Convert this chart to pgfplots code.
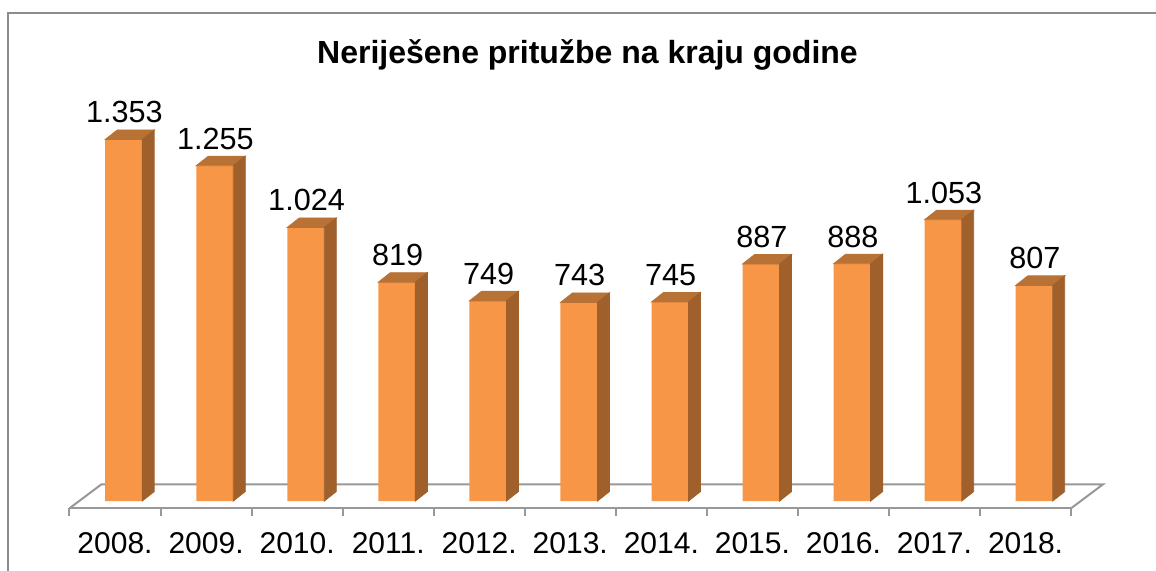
\documentclass[border=0pt]{standalone}
\usepackage{fontspec}
\setmainfont{Liberation Sans}
\usepackage{pgfplots}
\usepackage{pgfplotstable}
\pgfplotsset{compat=1.18}
\definecolor{front}{HTML}{F79646}
\definecolor{sidecol}{HTML}{A0602C}
\definecolor{topcol}{HTML}{B97236}
\definecolor{floorgray}{HTML}{989898}
\definecolor{bordergray}{HTML}{8C8C8C}
\pgfplotstableread{
x v
0 1353
1 1255
2 1024
3 819
4 749
5 743
6 745
7 887
8 888
9 1053
10 807
}\datatable
\begin{document}
\begin{tikzpicture}
\useasboundingbox (-34.75pt,-30.85pt) rectangle (543.25pt,254.15pt);
\clip (-34.75pt,-30.85pt) rectangle (543.25pt,254.15pt);
\draw[bordergray, line width=1pt] (-30.65pt,-60pt) rectangle (570pt,247.75pt);
\begin{axis}[
  at={(0,0)}, anchor=south west,
  x=45.525pt, y=0.1336pt,
  xmin=-0.5, xmax=10.5, ymin=-27.3, ymax=1500,
  clip=false,
  axis x line*=bottom, axis y line=none,
  axis line style={-, draw=floorgray, line width=1pt},
  xtick={0,...,10},
  xticklabels={2008.,2009.,2010.,2011.,2012.,2013.,2014.,2015.,2016.,2017.,2018.},
  major tick length=0pt,
  minor xtick={-0.5,0.5,...,10.5},
  minor tick length=4pt,
  tick align=outside,
  minor x tick style={draw=floorgray, line width=1pt},
  xticklabel style={font=\fontsize{15}{18}\selectfont, anchor=base, yshift=-22.5pt},
  /pgf/number format/assume math mode=true,
  /pgf/number format/1000 sep={.},
]
\draw[floorgray, line width=1pt, line join=miter] (axis cs:-0.5,-27.3) -- ++(16pt,12pt) -- ([shift={(16pt,12pt)}]axis cs:10.5,-27.3) -- (axis cs:10.5,-27.3);
\addplot[ybar, bar width=18.5pt, bar shift=4.35pt, fill=front, draw=none,
  nodes near coords,
  nodes near coords style={font=\fontsize{15.3}{18}\selectfont, anchor=base, xshift=4.7pt, yshift=8.3pt, text=black}]
  table[x=x,y=v]{\datatable};
\addplot[scatter, only marks, mark=*,
  visualization depends on={\thisrow{v} \as \val},
  scatter/@pre marker code/.code={%
    \pgfmathsetlengthmacro\hh{\val*0.1336pt}%
    \pgfmathsetlengthmacro\hb{4.75pt-\hh}%
    \fill[topcol] (-4.9pt,0pt) -- (13.6pt,0pt) -- (19.6pt,4.75pt) -- (1.1pt,4.75pt) -- cycle;
    \fill[sidecol] (13.6pt,0pt) -- (19.6pt,4.75pt) -- (19.6pt,\hb) -- (13.6pt,-\hh) -- cycle;
    \scope[opacity=0]},
  scatter/@post marker code/.code={\endscope}]
  table[x=x,y=v]{\datatable};
\end{axis}
\node[anchor=base, font=\bfseries\fontsize{16}{19}\selectfont] at (259pt,222.65pt) {Neriješene pritužbe na kraju godine};
\end{tikzpicture}
\end{document}
